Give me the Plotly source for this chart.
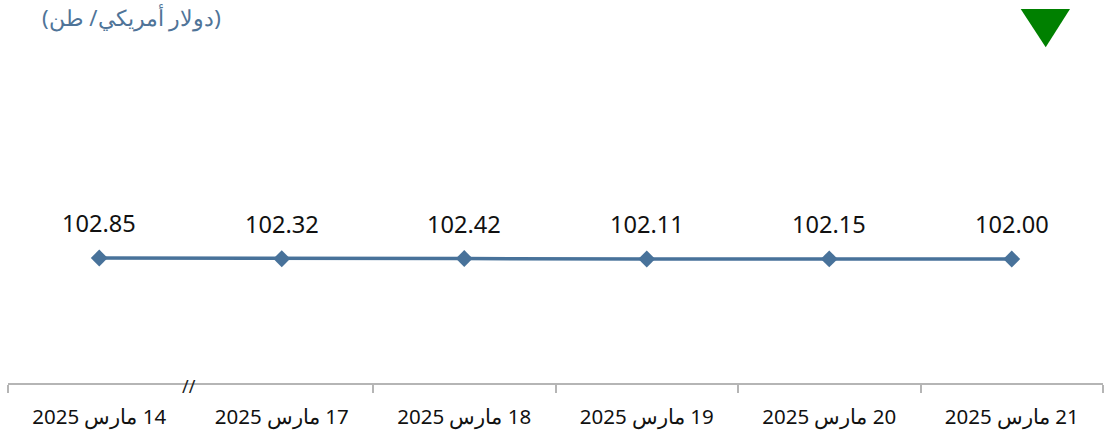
import plotly.graph_objects as go

categories = ["14 مارس 2025", "17 مارس 2025", "18 مارس 2025",
              "19 مارس 2025", "20 مارس 2025", "21 مارس 2025"]
values = [102.85, 102.32, 102.42, 102.11, 102.15, 102.00]
unit_title = "(دولار أمريكي/ طن)"

LINE = "#48729a"
xs = list(range(len(categories)))

fig = go.Figure()
fig.add_trace(go.Scatter(
    x=xs, y=values, mode="lines+markers",
    line=dict(color=LINE, width=3.5),
    marker=dict(symbol="diamond", size=13, color=LINE),
    hoverinfo="skip", showlegend=False,
))

for x, v in zip(xs, values):
    fig.add_annotation(x=x, y=v, text=f"{v:.2f}", showarrow=False,
                       yshift=35, font=dict(family="Noto Sans", size=23.6, color="#111111"))

# axis break mark
fig.add_annotation(x=0.5, y=0, yref="paper", text="//", showarrow=False,
                   yanchor="middle", yshift=-3, xshift=-2,
                   font=dict(family="Noto Sans", size=18, color="#222222"))

W0, W1, H0, H1 = 8, 1103, 140, 383
def px(xp):
    return (xp - W0) / (W1 - W0)
def py(yp):
    return (H1 - yp) / (H1 - H0)

# unit title
fig.add_annotation(x=px(40), xref="paper", y=py(17), yref="paper", text=unit_title,
                   showarrow=False, xanchor="left", yanchor="middle",
                   font=dict(family="Noto Sans", size=22, color="#4f7498"))

tri = f"M {px(1020.7)} {py(9)} L {px(1070)} {py(9)} L {px(1045.7)} {py(47.3)} Z"
fig.add_shape(type="path", path=tri, xref="paper", yref="paper",
              fillcolor="#008000", line=dict(width=0))

fig.update_layout(
    width=1107, height=431,
    margin=dict(l=W0, r=1107 - W1, t=H0, b=431 - H1, autoexpand=False),
    paper_bgcolor="white", plot_bgcolor="white",
    xaxis=dict(
        range=[-0.5, len(categories) - 0.5],
        tickvals=xs,
        ticktext=["\u202b" + c + "\u202c" for c in categories],
        ticks="", showgrid=False, zeroline=False,
        showline=True, linecolor="#b5b5b5", linewidth=2,
        tickfont=dict(family="Noto Sans", size=20.5, color="#111111"),
        ticklabelstandoff=14,
        automargin=False,
        minor=dict(tickvals=[-0.5, 1.5, 2.5, 3.5, 4.5, 5.5],
                   ticks="outside", ticklen=8, tickcolor="#b5b5b5", tickwidth=2,
                   showgrid=False),
        fixedrange=True,
    ),
    yaxis=dict(range=[0, 200], visible=False, fixedrange=True),
)

fig.write_html("out.html", config={"displayModeBar": False},
               post_script="document.body.style.margin='0';document.body.style.overflow='hidden';")
